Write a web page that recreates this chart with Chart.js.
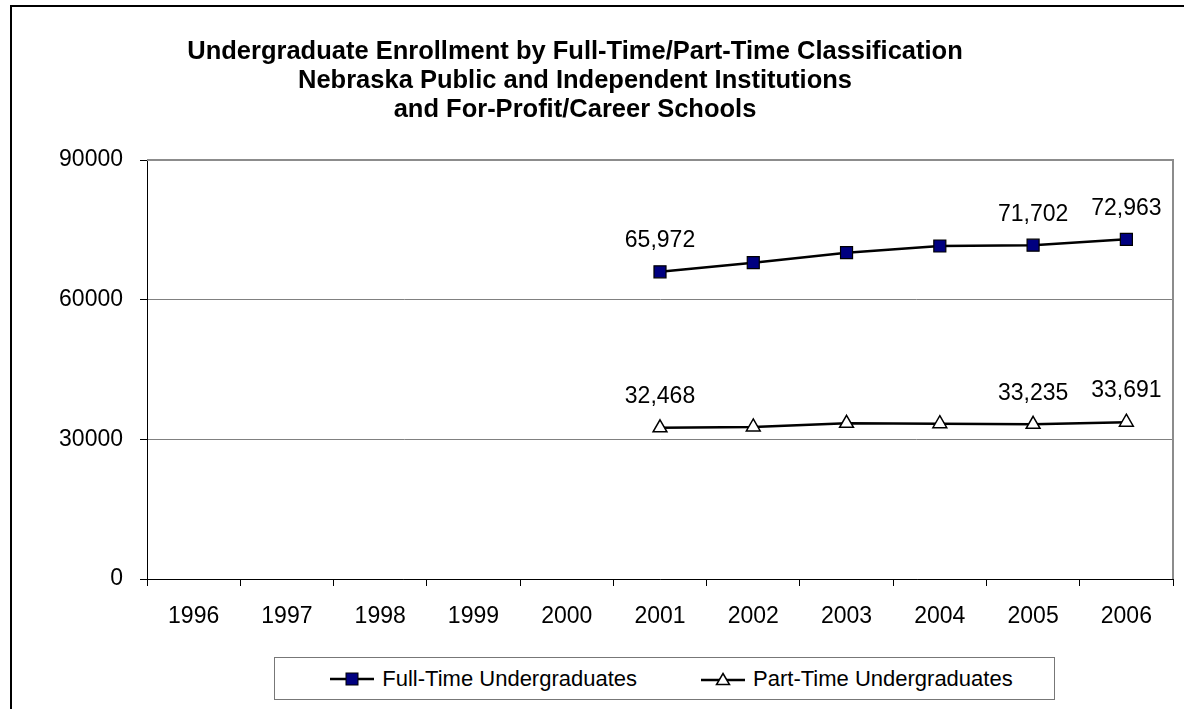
<!DOCTYPE html>
<html>
<head>
<meta charset="utf-8">
<title>Undergraduate Enrollment by Full-Time/Part-Time Classification</title>
<script src="https://cdn.jsdelivr.net/npm/chart.js@4.4.1/dist/chart.umd.min.js"></script>
<style>
  html, body { margin: 0; padding: 0; background: #fff; overflow: hidden; }
  #wrap { position: relative; width: 1184px; height: 709px; overflow: hidden; }
  #frame {
    position: absolute; left: 10px; top: 5px; width: 1220px; height: 740px;
    border: 2px solid #000; box-sizing: border-box;
  }
  #chart { position: absolute; left: 0; top: 0; }
  #legend {
    position: absolute; left: 274px; top: 657px; width: 781px; height: 43px;
    box-sizing: border-box; border: 1px solid #777; background: #fff;
    display: flex; align-items: center; justify-content: center; gap: 64px;
    font: 22px "Liberation Sans", Arial, sans-serif; color: #000;
    padding-left: 14px;
  }
  .item { display: flex; align-items: center; gap: 8px; }
  .item svg { display: block; }
</style>
</head>
<body>
<div id="wrap">
  <div id="frame"></div>
  <canvas id="chart" width="1184" height="709"></canvas>
  <div id="legend"></div>
</div>

<script>
// ─────────────────────────────────────────────
// Data
// ─────────────────────────────────────────────
const years      = ["1996", "1997", "1998", "1999", "2000", "2001", "2002", "2003", "2004", "2005", "2006"];
const fullTime   = [null, null, null, null, null, 65972, 67950, 70100, 71530, 71702, 72963];
const partTime   = [null, null, null, null, null, 32468, 32650, 33440, 33360, 33235, 33691];
const seriesNames = ["Full-Time Undergraduates", "Part-Time Undergraduates"];
const labelIndex = [5, 9, 10];   // points that carry a value label
const yTickMax   = 90000;
const yTickStep  = 30000;
const titleLines = [
  "Undergraduate Enrollment by Full-Time/Part-Time Classification",
  "Nebraska Public and Independent Institutions",
  "and For-Profit/Career Schools",
];

const FONT = '"Liberation Sans", Arial, sans-serif';

// ─────────────────────────────────────────────
// Plugins
// ─────────────────────────────────────────────
const titlePlugin = {
  id: "titleLines",
  afterDraw(chart) {
    const ctx = chart.ctx;
    ctx.save();
    ctx.font = `bold 25.5px ${FONT}`;
    ctx.fillStyle = "#000";
    ctx.textAlign = "center";
    ctx.textBaseline = "middle";
    titleLines.forEach((t, i) => ctx.fillText(t, 575, 52 + i * 29));
    ctx.restore();
  }
};

const frameEdges = {
  id: "frameEdges",
  beforeDatasetsDraw(chart) {
    const { ctx, chartArea: a } = chart;
    ctx.save();
    ctx.strokeStyle = "#8c8c8c";
    ctx.lineWidth = 2;
    ctx.beginPath();
    ctx.moveTo(a.left, a.top);
    ctx.lineTo(a.right, a.top);
    ctx.lineTo(a.right, a.bottom);
    ctx.stroke();
    ctx.restore();
  }
};

const valueLabels = {
  id: "valueLabels",
  afterDatasetsDraw(chart) {
    const ctx = chart.ctx;
    ctx.save();
    ctx.font = `23px ${FONT}`;
    ctx.fillStyle = "#000";
    ctx.textAlign = "center";
    ctx.textBaseline = "middle";
    chart.data.datasets.forEach((ds, i) => {
      const meta = chart.getDatasetMeta(i);
      labelIndex.forEach(j => {
        const pt = meta.data[j];
        const v = ds.data[j];
        if (!pt || v == null) return;
        ctx.fillText(v.toLocaleString("en-US"), pt.x, pt.y - 31);
      });
    });
    ctx.restore();
  }
};

// ─────────────────────────────────────────────
// Chart
// ─────────────────────────────────────────────
new Chart(document.getElementById("chart"), {
  type: "line",
  data: {
    labels: years,
    datasets: [
      {
        label: seriesNames[0],
        data: fullTime,
        borderColor: "#000",
        borderWidth: 2.5,
        pointStyle: "rect",
        pointRadius: 8.5,
        pointBackgroundColor: "#000080",
        pointBorderColor: "#000",
        pointBorderWidth: 1.2,
        tension: 0,
      },
      {
        label: seriesNames[1],
        data: partTime,
        borderColor: "#000",
        borderWidth: 2.5,
        pointStyle: "triangle",
        pointRadius: 8,
        pointBackgroundColor: "#fff",
        pointBorderColor: "#000",
        pointBorderWidth: 1.5,
        tension: 0,
      }
    ]
  },
  options: {
    responsive: false,
    animation: false,
    devicePixelRatio: 1,
    layout: { padding: { top: 160, right: 11, left: 0, bottom: 0 } },
    plugins: {
      legend: { display: false },
      title: { display: false },
      tooltip: { enabled: false },
    },
    scales: {
      x: {
        type: "category",
        offset: true,
        afterFit: s => { s.height = 130; },
        grid: { offset: true, drawOnChartArea: false, drawTicks: true, tickLength: 7, tickColor: "#000" },
        border: { color: "#000", width: 1 },
        ticks: { color: "#000", font: { family: FONT, size: 23 }, padding: 17, maxRotation: 0, autoSkip: false },
      },
      y: {
        min: 0,
        max: yTickMax,
        afterFit: s => { s.width = 147; },
        grid: { color: "#808080", lineWidth: 1, tickLength: 7, tickColor: "#000" },
        border: { color: "#000", width: 1 },
        ticks: {
          stepSize: yTickStep,
          color: "#000",
          font: { family: FONT, size: 23 },
          padding: 17,
          callback: v => String(v),
        },
      }
    }
  },
  plugins: [titlePlugin, frameEdges, valueLabels]
});

// ─────────────────────────────────────────────
// Legend (boxed, below the plot)
// ─────────────────────────────────────────────
const icons = [
  `<svg width="44" height="16"><line x1="0" y1="8" x2="44" y2="8" stroke="#000" stroke-width="2.5"/>
     <rect x="16" y="2" width="12" height="12" fill="#000080" stroke="#000" stroke-width="1"/></svg>`,
  `<svg width="44" height="16"><line x1="0" y1="9" x2="44" y2="9" stroke="#000" stroke-width="2.5"/>
     <polygon points="22,2.5 28.5,13.5 15.5,13.5" fill="#fff" stroke="#000" stroke-width="1.5"/></svg>`,
];
document.getElementById("legend").innerHTML = seriesNames.map((n, i) =>
  `<div class="item">${icons[i]}<span>${n}</span></div>`).join("");
</script>
</body>
</html>
